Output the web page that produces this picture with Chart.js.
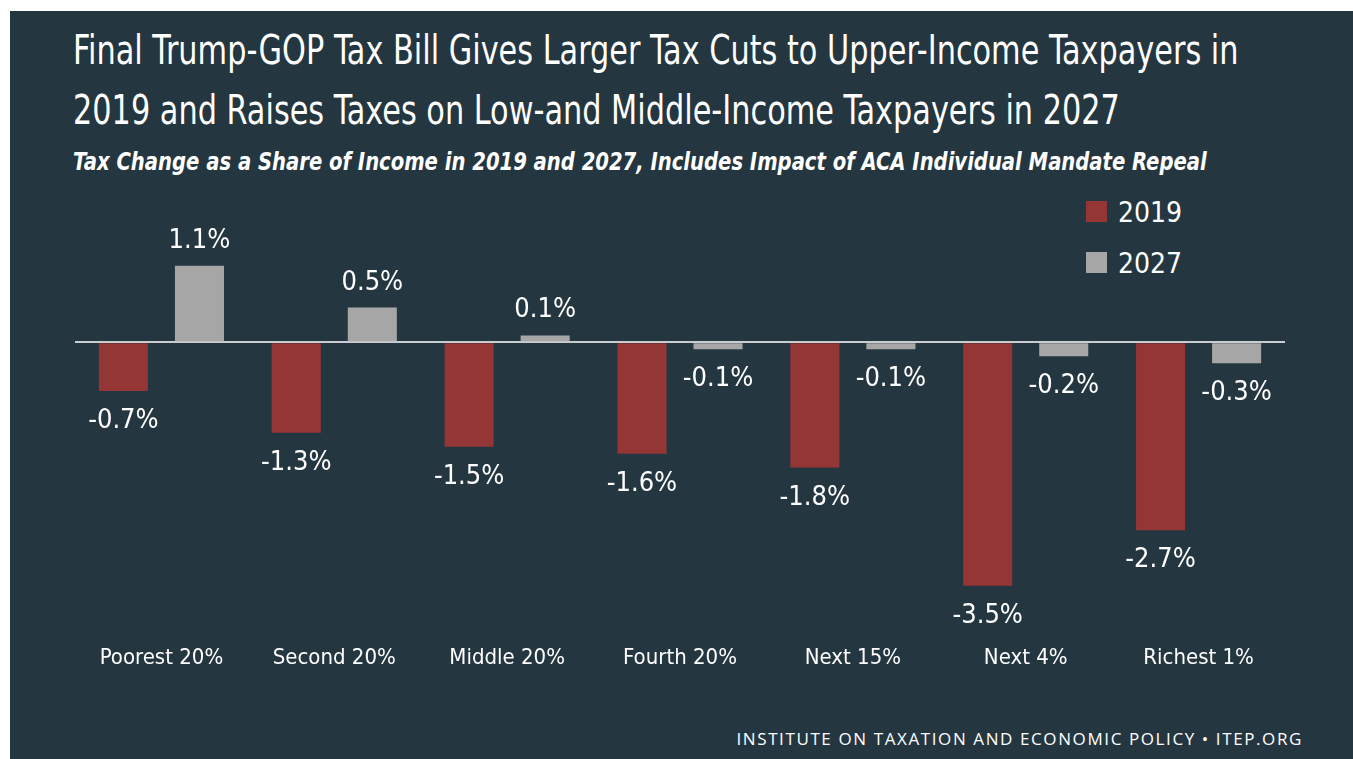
<!DOCTYPE html>
<html>
<head>
<meta charset="utf-8">
<script src="https://cdn.jsdelivr.net/npm/chart.js@4.4.1/dist/chart.umd.min.js"></script>
<style>
  html, body { margin: 0; padding: 0; background: #fff; }
  body { width: 1353px; height: 759px; position: relative; overflow: hidden;
         font-family: "DejaVu Sans Condensed", sans-serif; }
  #panel { position: absolute; left: 10px; top: 11px; right: 0; bottom: 0; background: #243640; }
  #title { position: absolute; left: 73px; top: 20px; color: #fff; font-size: 40px; line-height: 60px;
           white-space: nowrap; transform: scaleX(0.843); transform-origin: 0 0; }
  #subtitle { position: absolute; left: 73px; top: 148px; color: #fff; font-size: 24px; white-space: nowrap;
              font-weight: bold; font-style: italic; transform: scaleX(0.908); transform-origin: 0 0; }
  #legend { position: absolute; left: 1086px; top: 196px; color: #fff; font-size: 28px; }
  #legend div { height: 51px; display: flex; align-items: flex-start; }
  #legend span.box { display: inline-block; width: 21px; height: 21px; margin-top: 5px; margin-right: 11px; }
  #source { position: absolute; right: 50px; top: 727px; color: #fff; font-family: "Open Sans", sans-serif;
            font-size: 17px; letter-spacing: 1.6px; white-space: nowrap; }
  #wrap { position: absolute; left: 0; top: 0; width: 1353px; height: 759px; }
</style>
</head>
<body>
<div id="panel"></div>
<div id="title">Final Trump-GOP Tax Bill Gives Larger Tax Cuts to Upper-Income Taxpayers in<br>2019 and Raises Taxes on Low-and Middle-Income Taxpayers in 2027</div>
<div id="subtitle">Tax Change as a Share of Income in 2019 and 2027, Includes Impact of ACA Individual Mandate Repeal</div>
<div id="legend"></div>
<div id="source">INSTITUTE ON TAXATION AND ECONOMIC POLICY • ITEP.ORG</div>
<div id="wrap"><canvas id="chart" width="1353" height="759"></canvas></div>
<script>
const categories = ['Poorest 20%', 'Second 20%', 'Middle 20%', 'Fourth 20%', 'Next 15%', 'Next 4%', 'Richest 1%'];
const change2019 = [-0.7, -1.3, -1.5, -1.6, -1.8, -3.5, -2.7];
const change2027 = [1.1, 0.5, 0.1, -0.1, -0.1, -0.2, -0.3];
const seriesNames = ['2019', '2027'];
const seriesColors = ['#953636', '#a6a6a6'];

// legend
const legend = document.getElementById('legend');
seriesNames.forEach(function(name, i) {
  const row = document.createElement('div');
  row.innerHTML = '<span class="box" style="background:' + seriesColors[i] + '"></span>' + name;
  legend.appendChild(row);
});

// value labels above / below each bar
const valueLabels = {
  id: 'valueLabels',
  afterDatasetsDraw(chart) {
    const ctx = chart.ctx;
    ctx.save();
    ctx.fillStyle = '#ffffff';
    ctx.font = '27px "DejaVu Sans Condensed", sans-serif';
    ctx.textAlign = 'center';
    ctx.textBaseline = 'middle';
    chart.data.datasets.forEach(function(ds, di) {
      chart.getDatasetMeta(di).data.forEach(function(bar, i) {
        const v = ds.data[i];
        const y = v >= 0 ? bar.y - 25 : bar.y + 30;
        ctx.fillText(v.toFixed(1) + '%', bar.x, y);
      });
    });
    ctx.restore();
  }
};

new Chart(document.getElementById('chart'), {
  type: 'bar',
  data: {
    labels: categories,
    datasets: [
      { label: seriesNames[0], data: change2019, backgroundColor: seriesColors[0] },
      { label: seriesNames[1], data: change2027, backgroundColor: seriesColors[1] }
    ]
  },
  options: {
    responsive: false,
    animation: false,
    layout: { padding: { left: 75, right: 68, top: 238, bottom: 72 } },
    categoryPercentage: 0.88,
    barPercentage: 0.645,
    plugins: { legend: { display: false }, tooltip: { enabled: false } },
    scales: {
      x: {
        grid: { display: false },
        border: { display: false },
        ticks: { color: '#ffffff', padding: 16,
                 font: { family: '"DejaVu Sans Condensed", sans-serif', size: 22 } }
      },
      y: {
        min: -4, max: 1.5,
        ticks: { display: false },
        border: { display: false },
        grid: {
          drawTicks: false,
          lineWidth: 2,
          color: function(c) { return c.tick && c.tick.value === 0 ? '#c9cdd0' : 'transparent'; }
        }
      }
    }
  },
  plugins: [valueLabels]
});
</script>
</body>
</html>
